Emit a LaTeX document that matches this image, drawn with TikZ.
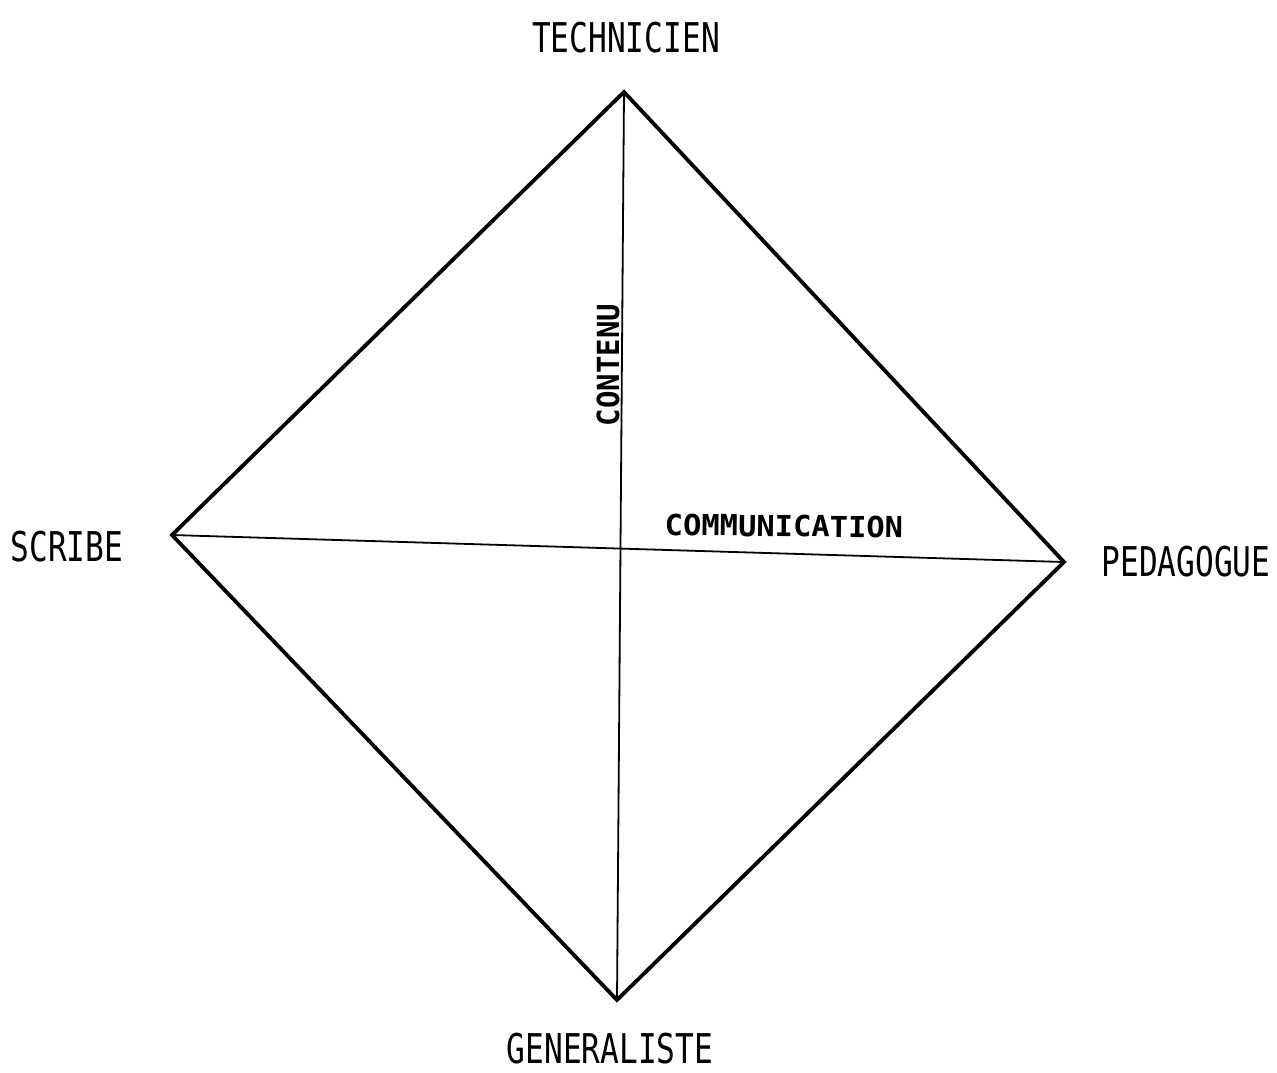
\documentclass[tikz,border=0pt]{standalone}
\usepackage{fontspec}
\newfontfamily\labfont{DejaVu Sans Mono}
\begin{document}
\begin{tikzpicture}[x=1pt,y=-1pt,
  outer/.style={line width=3.8pt,line join=miter},
  inner/.style={line width=1.8pt},
  vlabel/.style={font=\labfont\fontsize{41}{41}\selectfont,inner sep=0pt,xscale=0.76},
  axlabel/.style={font=\labfont\bfseries\fontsize{29}{29}\selectfont,inner sep=0pt,xscale=1.05}]
\useasboundingbox (0,0) rectangle (1277,1072);
\coordinate (T) at (624,92);
\coordinate (L) at (172,535);
\coordinate (R) at (1064,562);
\coordinate (B) at (617,1000);
\draw[outer] (T) -- (R) -- (B) -- (L) -- cycle;
\draw[inner] (T) -- (B);
\draw[inner] (L) -- (R);
\node[vlabel] (tech) at (626,38) {TECHNICIEN};
\node[vlabel] (scribe) at (67,547) {SCRIBE};
\node[vlabel] (peda) at (1186,562) {PEDAGOGUE};
\node[vlabel] (gen) at (610,1049) {GENERALISTE};
\node[axlabel,rotate=90] (cont) at (608,365) {CONTENU};
\node[axlabel,rotate=-0.6] (comm) at (784,526) {COMMUNICATION};
\end{tikzpicture}
\end{document}
